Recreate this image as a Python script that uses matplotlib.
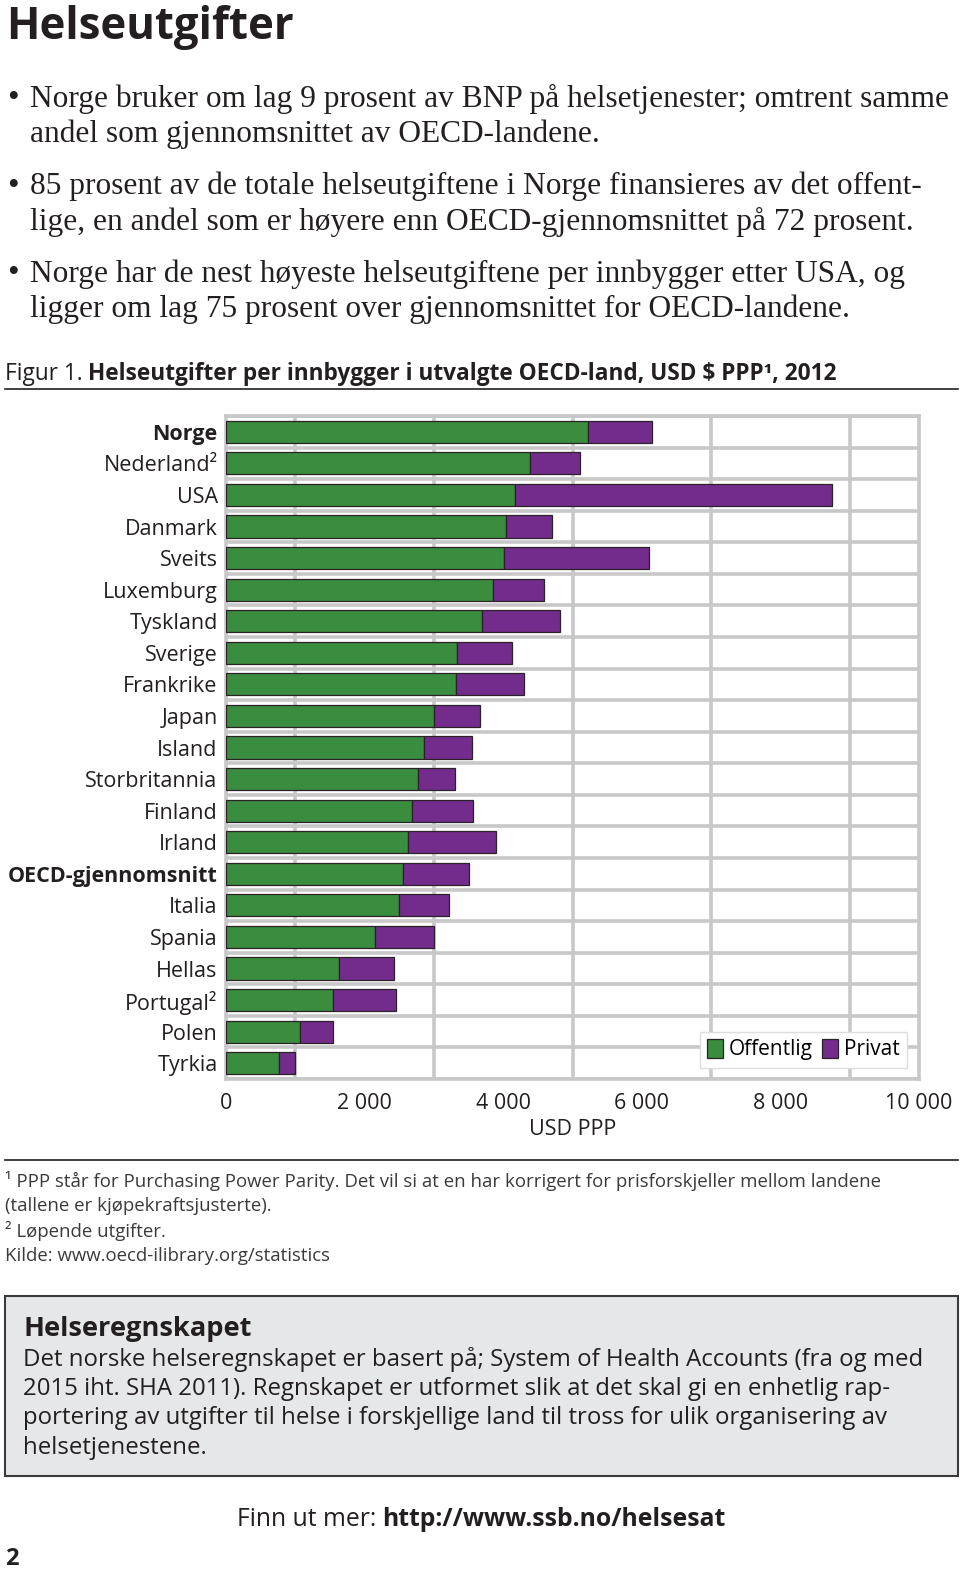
import numpy as np
import matplotlib
matplotlib.use('Agg')
import matplotlib.pyplot as plt
from matplotlib.patches import Rectangle
from matplotlib.lines import Line2D

# Data (USD PPP per innbygger, 2012)
land = ['Norge', 'Nederland²', 'USA', 'Danmark', 'Sveits', 'Luxemburg', 'Tyskland',
        'Sverige', 'Frankrike', 'Japan', 'Island', 'Storbritannia', 'Finland', 'Irland',
        'OECD-gjennomsnitt', 'Italia', 'Spania', 'Hellas', 'Portugal²', 'Polen', 'Tyrkia']
offentlig = [5225, 4390, 4170, 4040, 4010, 3860, 3700, 3340, 3320, 3000, 2860,
             2770, 2680, 2630, 2550, 2490, 2150, 1630, 1550, 1070, 770]
totalt = [6140, 5105, 8750, 4710, 6100, 4590, 4820, 4120, 4300, 3660, 3550,
          3300, 3570, 3900, 3500, 3220, 3000, 2420, 2460, 1550, 1000]
privat = [t - o for t, o in zip(totalt, offentlig)]
fete = ['Norge', 'OECD-gjennomsnitt']
xticks = [0, 2000, 4000, 6000, 8000, 10000]

W, H = 960, 1572
GREEN = '#3a8c3e'
PURPLE = '#732c8c'
GRID = '#c8c8c8'
INK = '#231f20'
SANS = ['Open Sans', 'DejaVu Sans']
SERIF = ['Liberation Serif', 'DejaVu Serif']
plt.rcParams['font.family'] = SANS

fig = plt.figure(figsize=(W / 100, H / 100), dpi=100)
renderer = fig.canvas.get_renderer()


def fx(x):
    return x / W


def fy(y):
    return 1 - y / H


def runs(x, y, parts, size, ha='left', color=INK, family=SANS):
    # parts: list of (tekst, weight); legges etter hverandre på samme linje
    objs = []
    for txt, wt in parts:
        t = fig.text(fx(x), fy(y), txt, fontsize=size, fontweight=wt, color=color,
                     family=family, va='center', ha='left')
        objs.append(t)
        x += t.get_window_extent(renderer).width
    if ha == 'center':
        total = sum(o.get_window_extent(renderer).width for o in objs)
        for o in objs:
            px, py = o.get_position()
            o.set_position((px - total / 2 / W, py))
    return objs


# Tittel
fig.text(fx(6), fy(39), 'Helseutgifter', fontsize=31.5, fontweight='bold',
         color=INK, va='baseline')

# Kulepunkter
bullets = [
    ('Norge bruker om lag 9 prosent av BNP på helsetjenester; omtrent samme',
     'andel som gjennomsnittet av OECD-landene.'),
    ('85 prosent av de totale helseutgiftene i Norge finansieres av det offent-',
     'lige, en andel som er høyere enn OECD-gjennomsnittet på 72 prosent.'),
    ('Norge har de nest høyeste helseutgiftene per innbygger etter USA, og',
     'ligger om lag 75 prosent over gjennomsnittet for OECD-landene.'),
]
for i, (l1, l2) in enumerate(bullets):
    y0 = 99 + i * 87.5
    fig.text(fx(7), fy(y0), '•', fontsize=24, family=SERIF, va='center', color=INK)
    fig.text(fx(30), fy(y0), l1, fontsize=22.6, family=SERIF, va='center', color=INK)
    fig.text(fx(30), fy(y0 + 35), l2, fontsize=22.6, family=SERIF, va='center', color=INK)

# Figurtekst
runs(5, 374, [('Figur 1. ', 'normal'),
              ('Helseutgifter per innbygger i utvalgte OECD-land, USD $ PPP¹, 2012', 'bold')],
     16.3)
fig.add_artist(Line2D([fx(5), fx(958)], [fy(389), fy(389)], color=INK, lw=1.2))

# Diagram
ax = fig.add_axes([fx(226), fy(1079), (919 - 226) / W, (1079 - 416) / H])
y = np.arange(len(land))
ax.barh(y, offentlig, height=0.7, color=GREEN, edgecolor='#2a2228', linewidth=0.9,
        label='Offentlig', zorder=3)
ax.barh(y, privat, left=offentlig, height=0.7, color=PURPLE, edgecolor='#2a2228',
        linewidth=0.9, label='Privat', zorder=3)

ax.set_xlim(0, 10000)
ax.set_ylim(len(land) - 0.5, -0.5)
ax.set_xticks(xticks)
ax.set_xticklabels([f'{v:,}'.replace(',', ' ') for v in xticks], fontsize=15.5, color=INK)
ax.set_xticks(np.arange(0, 10001, 1000), minor=True)
ax.set_yticks(y)
ax.set_yticklabels(land, fontsize=15.5, color=INK)
for lab in ax.get_yticklabels():
    if lab.get_text() in fete:
        lab.set_fontweight('bold')
ax.set_yticks(np.arange(-0.5, len(land), 1), minor=True)
ax.tick_params(axis='both', which='both', length=0)
ax.tick_params(axis='x', pad=10)
ax.tick_params(axis='y', pad=6)
ax.grid(True, which='minor', color=GRID, linewidth=2.6, zorder=0)
ax.grid(False, which='major')
for s in ax.spines.values():
    s.set_color(GRID)
    s.set_linewidth(2.6)
ax.set_xlabel('USD PPP', fontsize=15.5, color=INK, labelpad=4)

leg = ax.legend(loc='lower right', bbox_to_anchor=(0.983, 0.017), ncol=2, fontsize=15,
                frameon=True, fancybox=False, edgecolor='#dddddd', framealpha=1,
                handlelength=0.75, handleheight=1.0, handletextpad=0.3,
                columnspacing=0.45, borderpad=0.35, borderaxespad=0)
leg.get_frame().set_linewidth(1.0)

# Fotnoter
fig.add_artist(Line2D([fx(5), fx(958)], [fy(1160), fy(1160)], color=INK, lw=1.2))
fnotes = ['¹ PPP står for Purchasing Power Parity. Det vil si at en har korrigert for prisforskjeller mellom landene',
          '(tallene er kjøpekraftsjusterte).',
          '² Løpende utgifter.',
          'Kilde: www.oecd-ilibrary.org/statistics']
for i, t in enumerate(fnotes):
    fig.text(fx(5), fy(1181 + i * 25), t, fontsize=13.4, color='#3a3a3a', va='center')

# Faktaboks
fig.add_artist(Rectangle((fx(5), fy(1476)), (958 - 5) / W, (1476 - 1296) / H,
                         transform=fig.transFigure, facecolor='#e6e7e8',
                         edgecolor='#3a3a3a', linewidth=1.5))
fig.text(fx(23), fy(1329), 'Helseregnskapet', fontsize=19.6, fontweight='bold',
         color=INK, va='center')
boks = ['Det norske helseregnskapet er basert på; System of Health Accounts (fra og med',
        '2015 iht. SHA 2011). Regnskapet er utformet slik at det skal gi en enhetlig rap-',
        'portering av utgifter til helse i forskjellige land til tross for ulik organisering av',
        'helsetjenestene.']
for i, t in enumerate(boks):
    fig.text(fx(23), fy(1359 + i * 29.7), t, fontsize=17.3, color=INK, va='center')

runs(481, 1519, [('Finn ut mer: ', 'normal'), ('http://www.ssb.no/helsesat', 'bold')],
     17.8, ha='center')
fig.text(fx(5), fy(1559), '2', fontsize=17, fontweight='bold', color=INK, va='center')

fig.savefig('out.png', dpi=100)
